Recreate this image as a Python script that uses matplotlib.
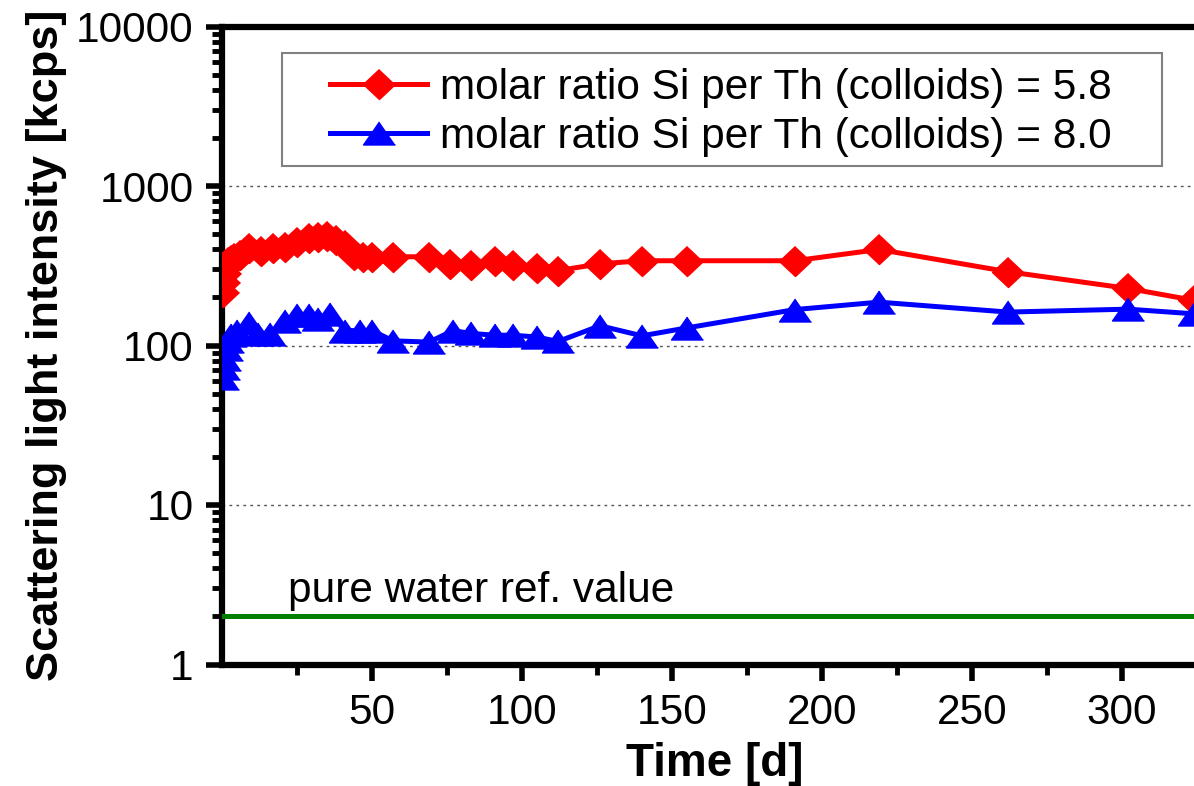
import matplotlib
matplotlib.use("Agg")
import matplotlib.pyplot as plt
from matplotlib.ticker import FixedLocator, NullFormatter
from matplotlib.patches import Rectangle

plt.rcParams['font.family'] = ['Liberation Sans', 'DejaVu Sans']

## scattering light intensity [kcps] vs time [d]
red_days = [0.3, 0.6, 1, 1.5, 2, 3, 4, 6, 9, 13, 17, 21, 25, 29, 32, 35, 38, 41, 44, 47,
            50, 57, 69, 76, 83, 91, 97, 105, 112, 126, 140, 155, 191, 219, 262, 302, 324]
red_vals = [215, 250, 285, 315, 335, 345, 355, 370, 410, 390, 410, 415, 445, 470, 480, 485, 460, 425, 370, 360,
            360, 360, 360, 325, 320, 340, 320, 305, 295, 325, 340, 340, 340, 400, 290, 228, 192]

blue_days = [0.3, 0.6, 1, 1.5, 2, 3, 5, 9, 12, 16, 21, 25, 29, 32, 36, 41, 46, 50, 57, 69,
             77, 83, 91, 97, 105, 112, 126, 140, 155, 191, 219, 262, 302, 324]
blue_vals = [63, 72, 82, 95, 107, 116, 124, 138, 118, 118, 143, 155, 155, 147, 158, 124, 124, 124, 107, 105,
             124, 119, 116, 116, 113, 106, 133, 115, 129, 168, 187, 162, 169, 158]

labels = ['molar ratio Si per Th (colloids) = 5.8', 'molar ratio Si per Th (colloids) = 8.0']
water_ref = 2.0
water_text = 'pure water ref. value'

xticks = [50, 100, 150, 200, 250, 300]
xminor = [25, 75, 125, 175, 225, 275, 325]
yticks = [1, 10, 100, 1000, 10000]

W, H = 1194., 786.
fs = 30.5
fig = plt.figure(figsize=(W / 100, H / 100), dpi=100)
ax = fig.add_axes([222 / W, (H - 664.5) / H, 990 / W, (664.5 - 26.5) / H])

diamond = [(0, 0.94), (-1, 0), (0, -0.94), (1, 0)]
triangle = [(0, 0.72), (-1, -0.72), (1, -0.72)]

ax.plot(red_days, red_vals, color='#ff0000', lw=3.6, marker=diamond, ms=23,
        mec='#ff0000', mfc='#ff0000', label=labels[0], zorder=4)
ax.plot(blue_days, blue_vals, color='#0000ff', lw=3.6, marker=triangle, ms=23,
        mec='#0000ff', mfc='#0000ff', label=labels[1], zorder=4)
ax.axhline(water_ref, color='#008000', lw=3.6, zorder=3)
ax.text(22, 2.45, water_text, fontsize=fs, va='baseline', ha='left')

ax.set_yscale('log')
ax.set_xlim(0, 330)
ax.set_ylim(1, 10000)

ax.set_xticks(xticks)
ax.set_xticklabels([str(x) for x in xticks])
ax.xaxis.set_minor_locator(FixedLocator(xminor))
ax.set_yticks(yticks)
ax.set_yticklabels([str(y) for y in yticks])
ax.yaxis.set_minor_locator(matplotlib.ticker.LogLocator(base=10, subs=range(2, 10)))
ax.yaxis.set_minor_formatter(NullFormatter())

ax.tick_params(which='major', direction='out', length=11.5, width=4, labelsize=fs, pad=9)
ax.tick_params(which='minor', direction='out', length=7, width=3.5)
ax.tick_params(axis='x', which='both', top=False)
ax.tick_params(axis='y', which='both', right=False)

for s in ['left', 'bottom', 'top']:
  ax.spines[s].set_linewidth(4.5)
ax.spines['right'].set_visible(False)

ax.yaxis.grid(True, which='major', linestyle=(0, (2, 3)), color='#555555', lw=1)
ax.set_axisbelow(True)

ax.set_xlabel('Time [d]', fontsize=33, fontweight='bold')
ax.xaxis.set_label_coords(0.498, -0.122)
ax.set_ylabel('Scattering light intensity [kcps]', fontsize=32.5, fontweight='bold')
ax.yaxis.set_label_coords(-0.157, 0.5)

leg = ax.legend(loc='upper left', bbox_to_anchor=(330 / W, 1 - 68 / H),
                bbox_transform=fig.transFigure, frameon=False, fontsize=fs,
                borderpad=0, borderaxespad=0, handlelength=2.3, handletextpad=0.3,
                labelspacing=0.22)
fig.patches.append(Rectangle((282 / W, 1 - 166 / H), (1162 - 282) / W, (166 - 53) / H,
                             transform=fig.transFigure, fill=False, ec='#808080', lw=1.5,
                             zorder=5))

plt.savefig('out.png', dpi=100)
